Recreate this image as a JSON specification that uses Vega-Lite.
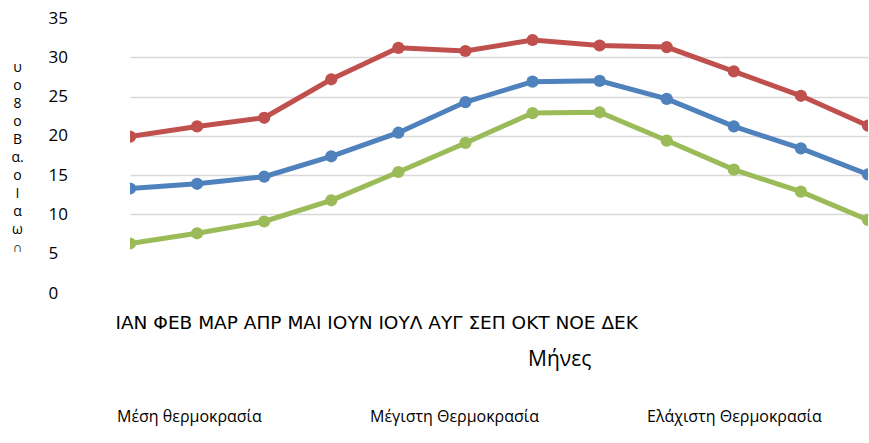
{
  "$schema": "https://vega.github.io/schema/vega-lite/v6.json",
  "width": 738,
  "height": 275,
  "autosize": "none",
  "padding": {"left": 130, "top": 18, "right": 1, "bottom": 150},
  "background": "white",
  "config": {"view": {"stroke": null}, "font": "Open Sans"},
  "title": {"text": "Μήνες", "orient": "bottom", "anchor": "start", "frame": "group", "dx": 398, "offset": -76, "fontSize": 21, "fontWeight": "normal", "font": "Open Sans", "color": "#000000"},
  "data": {"values": [
    {"month": "ΙΑΝ", "series": "Μέση θερμοκρασία", "value": 13.3},
    {"month": "ΦΕΒ", "series": "Μέση θερμοκρασία", "value": 13.9},
    {"month": "ΜΑΡ", "series": "Μέση θερμοκρασία", "value": 14.8},
    {"month": "ΑΠΡ", "series": "Μέση θερμοκρασία", "value": 17.4},
    {"month": "ΜΑΙ", "series": "Μέση θερμοκρασία", "value": 20.4},
    {"month": "ΙΟΥΝ", "series": "Μέση θερμοκρασία", "value": 24.3},
    {"month": "ΙΟΥΛ", "series": "Μέση θερμοκρασία", "value": 26.9},
    {"month": "ΑΥΓ", "series": "Μέση θερμοκρασία", "value": 27.0},
    {"month": "ΣΕΠ", "series": "Μέση θερμοκρασία", "value": 24.7},
    {"month": "ΟΚΤ", "series": "Μέση θερμοκρασία", "value": 21.2},
    {"month": "ΝΟΕ", "series": "Μέση θερμοκρασία", "value": 18.4},
    {"month": "ΔΕΚ", "series": "Μέση θερμοκρασία", "value": 15.1},
    {"month": "ΙΑΝ", "series": "Μέγιστη Θερμοκρασία", "value": 19.9},
    {"month": "ΦΕΒ", "series": "Μέγιστη Θερμοκρασία", "value": 21.2},
    {"month": "ΜΑΡ", "series": "Μέγιστη Θερμοκρασία", "value": 22.3},
    {"month": "ΑΠΡ", "series": "Μέγιστη Θερμοκρασία", "value": 27.2},
    {"month": "ΜΑΙ", "series": "Μέγιστη Θερμοκρασία", "value": 31.2},
    {"month": "ΙΟΥΝ", "series": "Μέγιστη Θερμοκρασία", "value": 30.8},
    {"month": "ΙΟΥΛ", "series": "Μέγιστη Θερμοκρασία", "value": 32.2},
    {"month": "ΑΥΓ", "series": "Μέγιστη Θερμοκρασία", "value": 31.5},
    {"month": "ΣΕΠ", "series": "Μέγιστη Θερμοκρασία", "value": 31.3},
    {"month": "ΟΚΤ", "series": "Μέγιστη Θερμοκρασία", "value": 28.2},
    {"month": "ΝΟΕ", "series": "Μέγιστη Θερμοκρασία", "value": 25.1},
    {"month": "ΔΕΚ", "series": "Μέγιστη Θερμοκρασία", "value": 21.3},
    {"month": "ΙΑΝ", "series": "Ελάχιστη Θερμοκρασία", "value": 6.3},
    {"month": "ΦΕΒ", "series": "Ελάχιστη Θερμοκρασία", "value": 7.6},
    {"month": "ΜΑΡ", "series": "Ελάχιστη Θερμοκρασία", "value": 9.1},
    {"month": "ΑΠΡ", "series": "Ελάχιστη Θερμοκρασία", "value": 11.8},
    {"month": "ΜΑΙ", "series": "Ελάχιστη Θερμοκρασία", "value": 15.4},
    {"month": "ΙΟΥΝ", "series": "Ελάχιστη Θερμοκρασία", "value": 19.1},
    {"month": "ΙΟΥΛ", "series": "Ελάχιστη Θερμοκρασία", "value": 22.9},
    {"month": "ΑΥΓ", "series": "Ελάχιστη Θερμοκρασία", "value": 23.0},
    {"month": "ΣΕΠ", "series": "Ελάχιστη Θερμοκρασία", "value": 19.4},
    {"month": "ΟΚΤ", "series": "Ελάχιστη Θερμοκρασία", "value": 15.7},
    {"month": "ΝΟΕ", "series": "Ελάχιστη Θερμοκρασία", "value": 12.9},
    {"month": "ΔΕΚ", "series": "Ελάχιστη Θερμοκρασία", "value": 9.3}
  ]},
  "encoding": {
    "x": {
      "field": "month", "type": "ordinal",
      "sort": ["ΙΑΝ","ΦΕΒ","ΜΑΡ","ΑΠΡ","ΜΑΙ","ΙΟΥΝ","ΙΟΥΛ","ΑΥΓ","ΣΕΠ","ΟΚΤ","ΝΟΕ","ΔΕΚ"],
      "scale": {"type": "point", "padding": 0},
      "axis": {
        "labels": false, "ticks": false, "domain": false, "grid": false,
        "title": "ΙΑΝ ΦΕΒ ΜΑΡ ΑΠΡ ΜΑΙ ΙΟΥΝ ΙΟΥΛ ΑΥΓ ΣΕΠ ΟΚΤ ΝΟΕ ΔΕΚ",
        "titleFont": "DejaVu Sans", "titleFontSize": 18.5, "titleFontWeight": "normal", "titleColor": "#000000",
        "titleAnchor": "start", "titleAlign": "left", "titleBaseline": "middle",
        "titleX": -15, "titleY": 29
      }
    },
    "y": {
      "field": "value", "type": "quantitative",
      "scale": {"domain": [0, 35], "nice": false, "zero": true},
      "axis": {
        "values": [0, 5, 10, 15, 20, 25, 30, 35],
        "domain": false, "ticks": false, "tickSize": 0,
        "labelAlign": "left", "labelPadding": 82, "labelFontSize": 17, "labelFont": "Open Sans", "labelColor": "#000000",
        "grid": true,
        "gridColor": {"condition": {"test": "datum.value >= 10 && datum.value <= 30", "value": "#d9d9d9"}, "value": "transparent"},
        "gridWidth": 1.5,
        "title": ["υ", "ο", "8", "ο", "Β", "α.", "ο", "Ι", "α", "ω", "∩"],
        "titleAngle": 0, "titleFont": "Open Sans", "titleFontSize": 14, "titleFontWeight": "normal", "titleColor": "#000000",
        "titleLineHeight": 18, "titleAlign": "center", "titleBaseline": "top",
        "titleX": -113, "titleY": 42
      }
    },
    "color": {
      "field": "series", "type": "nominal",
      "scale": {"domain": ["Μέση θερμοκρασία", "Μέγιστη Θερμοκρασία", "Ελάχιστη Θερμοκρασία"], "range": ["#4F81BD", "#C0504D", "#9BBB59"]},
      "legend": {
        "title": null, "orient": "none", "direction": "horizontal",
        "legendX": -29, "legendY": 391,
        "symbolSize": 0, "symbolOpacity": 0, "symbolStrokeWidth": 0, "labelOffset": 0,
        "columnPadding": 92, "labelFont": "Open Sans", "labelFontSize": 16, "labelColor": "#000000", "labelLimit": 400
      }
    }
  },
  "layer": [
    {"mark": {"type": "line", "strokeWidth": 5, "clip": true}},
    {"mark": {"type": "point", "filled": true, "size": 150, "opacity": 1, "clip": true}}
  ]
}
